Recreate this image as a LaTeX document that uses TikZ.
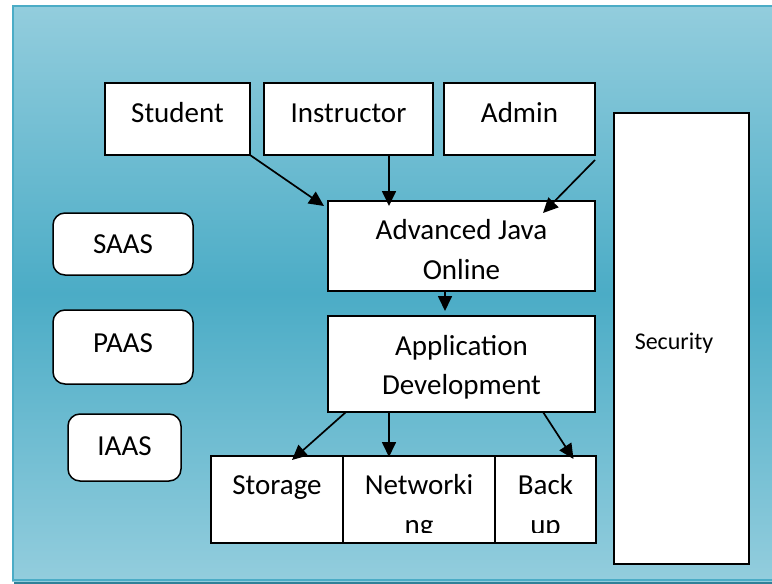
\documentclass[tikz,border=0pt]{standalone}
\usepackage{fontspec}
\setmainfont{Carlito}
\usetikzlibrary{arrows.meta,calc}
\definecolor{bglight}{HTML}{93CDDD}
\definecolor{bgmid}{HTML}{4BACC6}
\definecolor{bgedge}{HTML}{4BACC6}
\definecolor{bgshadow}{HTML}{2F8198}
\tikzset{
  box/.style={draw=black, line width=1.5pt, fill=white, inner sep=0pt, outer sep=0pt, anchor=north west},
  rbox/.style={box, rounded corners=12pt},
  lbl/.style={anchor=base, inner sep=0pt, font=\fontsize{29}{40}\selectfont},
  slbl/.style={anchor=base, inner sep=0pt, font=\fontsize{24}{30}\selectfont},
  arr/.style={line width=1.7pt, -{Triangle[length=15pt,width=14pt]}}
}
\begin{document}
\begin{tikzpicture}[x=1pt,y=-1pt]
\useasboundingbox (0,0) rectangle (772,584);
% background frame
\fill[bgshadow] (14,579) rectangle (772,584);
\shade[top color=bglight, bottom color=bglight, middle color=bgmid]
  (12,6) rectangle (775,581);
\draw[bgedge, line width=2pt] (775,6) -- (13,6) -- (13,580) -- (775,580);

% top row
\node[box, minimum width=145pt, minimum height=72pt] (student) at (105,83) {};
\node[box, minimum width=169pt, minimum height=72pt] (instructor) at (264,83) {};
\node[box, minimum width=151pt, minimum height=72pt] (admin) at (444,83) {};
\node[lbl] (tstudent) at (177.5,122) {Student};
\node[lbl] (tinstructor) at (348.5,122) {Instructor};
\node[lbl] (tadmin) at (519.5,122) {Admin};

% middle boxes
\node[box, minimum width=267pt, minimum height=90pt] (ajo) at (328,201) {};
\node[lbl] (tajo1) at (461.5,239) {Advanced Java};
\node[lbl] (tajo2) at (461.5,279) {Online};
\node[box, minimum width=267pt, minimum height=96pt] (app) at (328,316) {};
\node[lbl] (tapp1) at (461.5,355) {Application};
\node[lbl] (tapp2) at (461.5,394) {Development};

% bottom row
\node[box, minimum width=132pt, minimum height=87pt] (storage) at (211,456) {};
\node[box, minimum width=152pt, minimum height=87pt] (network) at (343,456) {};
\node[box, minimum width=101pt, minimum height=87pt] (backup) at (495,456) {};
\node[lbl] (tstorage) at (277,494) {Storage};
\node[lbl] (tnet1) at (419,494) {Networki};
\node[lbl] (tback1) at (545.5,494) {Back};
\begin{scope}
  \clip (211,456) rectangle (596,532);
  \node[lbl] (tnet2) at (419,534) {ng};
  \node[lbl] (tback2) at (545.5,534) {up};
\end{scope}

% left service boxes
\node[rbox, minimum width=140pt, minimum height=62pt] (saas) at (53,213) {};
\node[rbox, minimum width=140pt, minimum height=74pt] (paas) at (53,310) {};
\node[rbox, minimum width=113pt, minimum height=67pt] (iaas) at (68,414) {};
\node[lbl] (tsaas) at (123,253) {SAAS};
\node[lbl] (tpaas) at (123,352) {PAAS};
\node[lbl] (tiaas) at (124.5,455) {IAAS};

% security
\node[box, minimum width=135pt, minimum height=451pt] (security) at (614,113) {};
\node[slbl] (tsecurity) at (674,349) {Security};

% arrows
\draw[arr] (student.south east) -- ($(ajo.north west)+(-4,5)$);
\draw[arr] ($(instructor.south)+(40.5,0)$) -- ($(ajo.north)+(-72.5,5)$);
\draw[arr] ($(admin.south east)+(0,5)$) -- ($(ajo.north east)+(-52,12)$);
\draw[arr] ($(ajo.south)+(-16.5,0)$) -- ($(app.north)+(-16.5,-5)$);
\draw[arr] ($(app.south west)+(18,0)$) -- ($(storage.north)+(15,4)$);
\draw[arr] ($(app.south west)+(61,0)$) -- ($(network.north)+(-30,1)$);
\draw[arr] ($(app.south east)+(-52,0)$) -- ($(backup.north)+(28,3)$);
\end{tikzpicture}
\end{document}
